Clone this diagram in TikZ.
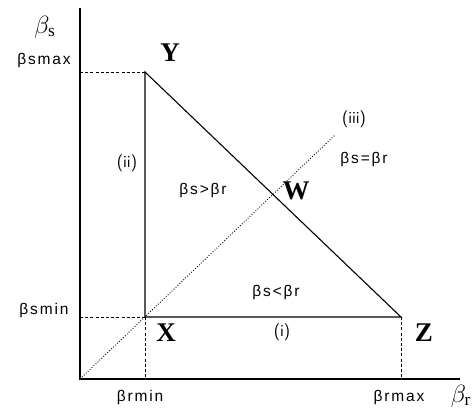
\documentclass[tikz,border=0pt]{standalone}
\usepackage{fontspec}
\setmainfont{Liberation Serif}
\newfontfamily\lblfont[LetterSpace=12]{Liberation Sans}
\begin{document}
\begin{tikzpicture}[x=1pt,y=-1pt,
  solidline/.style={line width=1.1pt},
  axisline/.style={line width=1.3pt},
  dashline/.style={line width=0.9pt, dash pattern=on 3pt off 2.2pt},
  dotline/.style={line width=0.9pt, dash pattern=on 0.9pt off 1.8pt},
  vertex/.style={font=\fontsize{27}{27}\selectfont\bfseries, inner sep=0pt},
  tick/.style={font=\lblfont\fontsize{15.5}{15.5}\selectfont, inner sep=0pt},
  roman/.style={font=\fontsize{17}{17}\selectfont\sffamily, inner sep=0pt},
  region/.style={font=\lblfont\fontsize{15.5}{15.5}\selectfont, inner sep=0pt},
  axlabel/.style={font=\fontsize{25}{25}\selectfont, inner sep=0pt}]
\useasboundingbox (0,0) rectangle (475,413);
% key points
\coordinate (O) at (80,379);
\coordinate (Ytop) at (80,8);
\coordinate (Xend) at (460,379);
\coordinate (Xp) at (145,317);
\coordinate (Yp) at (145,72);
\coordinate (Zp) at (401,317);
\coordinate (Ys) at (80,72);
\coordinate (Xs) at (80,317);
\coordinate (Xb) at (145,379);
\coordinate (Zb) at (401,379);
\coordinate (Dend) at (335,135);
% axes
\draw[axisline] (Ytop) -- (O) -- (Xend);
% triangle
\draw[solidline] (Xp) -- (Yp) -- (Zp) -- cycle;
% dashed guides
\draw[dashline] (Ys) -- (Yp);
\draw[dashline] (Xs) -- (Xp);
\draw[dashline] (Xp) -- (Xb);
\draw[dashline] (Zp) -- (Zb);
% dotted diagonal
\draw[dotline] (O) -- (Dend);
% labels
\node[axlabel] (bs) at (45,27) {$\beta_{\mathrm{s}}$};
\node[axlabel] (br) at (461,396) {$\beta_{\mathrm{r}}$};
\node[tick] (bsmax) at (44,60) {βsmax};
\node[tick] (bsmin) at (44,310) {βsmin};
\node[tick] (brmin) at (140,397) {βrmin};
\node[tick] (brmax) at (399,397) {βrmax};
\node[vertex] (Ylab) at (170,53) {Y};
\node[vertex] (Xlab) at (166,333) {X};
\node[vertex] (Zlab) at (424,333) {Z};
\node[vertex] (Wlab) at (296,191) {W};
\node[roman] (ii) at (127,163) {(ii)};
\node[roman] (i) at (282,332) {(i)};
\node[roman] (iii) at (354,119) {(iii)};
\node[region] (gt) at (203,190) {βs>βr};
\node[region] (lt) at (276,292) {βs<βr};
\node[region] (eq) at (364,159) {βs=βr};
\end{tikzpicture}
\end{document}
